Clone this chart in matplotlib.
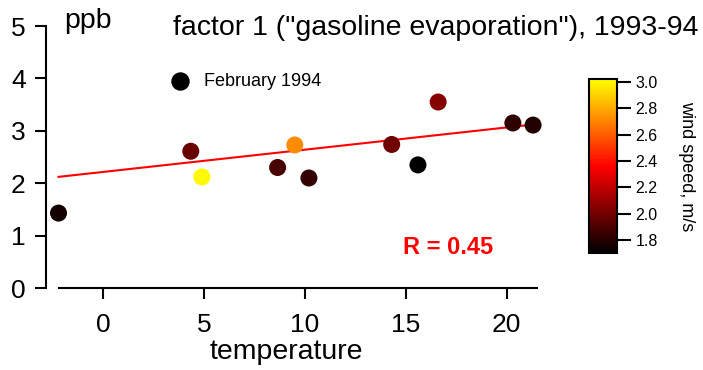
import numpy as np
import matplotlib
matplotlib.use('Agg')
import matplotlib.pyplot as plt
from matplotlib.colors import LinearSegmentedColormap, Normalize

plt.rcParams['font.family'] = ['Liberation Sans', 'DejaVu Sans']

# data
temperature = [-2.2, 4.35, 4.9, 8.65, 9.5, 10.2, 14.3, 15.6, 16.6, 20.3, 21.3]
factor1 = [1.43, 2.61, 2.12, 2.30, 2.73, 2.10, 2.74, 2.35, 3.55, 3.15, 3.11]
wind_speed = [1.75, 1.97, 3.0, 1.89, 2.72, 1.83, 1.99, 1.70, 2.05, 1.82, 1.79]

# regression line, as drawn
fit_intercept = 2.215
fit_slope = 0.0425
r_text = 'R = 0.45'

cmap = LinearSegmentedColormap.from_list('hot3', ['black', 'red', 'yellow'])
norm = Normalize(vmin=1.7, vmax=3.02)

fig = plt.figure(figsize=(7.03, 3.70), dpi=100)
ax = fig.add_axes([0.066, 0.2216, 0.698, 0.708])

sc = ax.scatter(temperature, factor1, c=wind_speed, cmap=cmap, norm=norm,
                s=150, edgecolors='none', clip_on=False, zorder=3)

xs = np.array([min(temperature), max(temperature)])
ax.plot(xs, fit_intercept + fit_slope * xs, color='red', lw=1.5, zorder=2)

ax.set_xlim(-2.8, 21.5)
ax.set_ylim(0, 5)
ax.spines['top'].set_visible(False)
ax.spines['right'].set_visible(False)
ax.spines['left'].set_linewidth(1.5)
ax.spines['bottom'].set_linewidth(1.5)
ax.spines['bottom'].set_bounds(-2.2, 21.5)
ax.set_xticks([0, 5, 10, 15, 20])
ax.set_yticks([0, 1, 2, 3, 4, 5])
ax.tick_params(labelsize=19, width=1.5, length=8)
ax.tick_params(axis='x', pad=10)
ax.tick_params(axis='y', pad=7)

fig.text(0.408, 0.03, 'temperature', fontsize=20.5, ha='center', va='baseline')
fig.text(0.092, 0.925, 'ppb', fontsize=20.5, ha='left', va='baseline')
fig.text(0.246, 0.905, 'factor 1 ("gasoline evaporation"), 1993-94', fontsize=20.5,
         ha='left', va='baseline')
fig.text(0.637, 0.332, r_text, fontsize=17, fontweight='bold', color='red',
         ha='center', va='center')

ax.scatter([], [], s=150, color='black', label='February 1994')
ax.legend(loc='center left', bbox_to_anchor=(0.231, 0.781), bbox_transform=fig.transFigure,
          frameon=False, fontsize=13, handletextpad=0.3, borderpad=0, borderaxespad=0)

cax = fig.add_axes([0.838, 0.316, 0.040, 0.470])
cb = fig.colorbar(sc, cax=cax)
cb.set_ticks([1.8, 2.0, 2.2, 2.4, 2.6, 2.8, 3.0])
cb.ax.tick_params(labelsize=11.5, width=1.5, length=10, pad=3)
cb.outline.set_linewidth(1.5)
cb.set_label('wind speed, m/s', fontsize=13, rotation=270, labelpad=27)

fig.savefig('out.png', dpi=100)
